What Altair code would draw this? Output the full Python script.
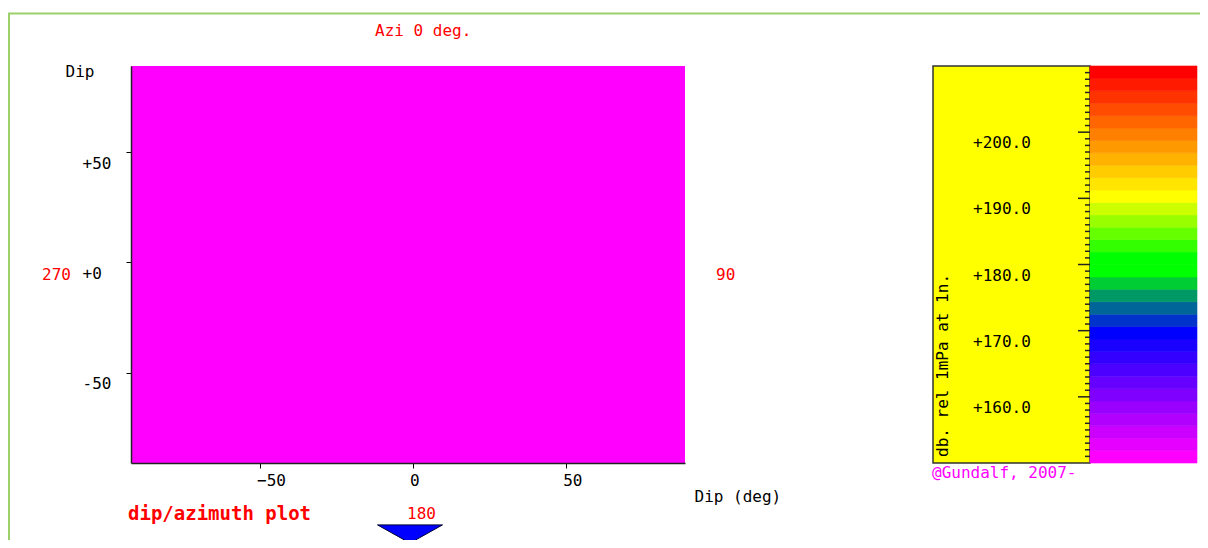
import altair as alt
import pandas as pd

# ---------------- data ----------------
# dip/azimuth grid (whole panel below the colour range -> magenta)
dip_x0 = [-92]
dip_x1 = [89]
dip_y0 = [-91]
dip_y1 = [89]
level_db = [150]

dip_ticks = [-50, 0, 50]

# colour bar bands (dB), lower edges, bottom to top
band_lo = [150.0, 151.875, 153.75, 155.625, 157.5, 159.375, 161.25, 163.125,
           165.0, 166.875, 168.75, 170.625, 172.5, 174.375, 176.25, 178.125,
           180.0, 181.875, 183.75, 185.625, 187.5, 189.375, 191.25, 193.125,
           195.0, 196.875, 198.75, 200.625, 202.5, 204.375, 206.25, 208.125]
band_hi = band_lo[1:] + [210.0]
palette = ["#ff00ff", "#e500ff", "#cc00ff", "#b200ff", "#9900ff", "#8000ff",
           "#6600ff", "#4c00ff", "#3300ff", "#1a00ff", "#0000ff", "#0033cc",
           "#006699", "#009966", "#00cc33", "#00ff00", "#00ff00", "#33ff00",
           "#66ff00", "#99ff00", "#ccff00", "#ffff00", "#ffe500", "#ffcc00",
           "#ffb200", "#ff9900", "#ff8000", "#ff6600", "#ff4c00", "#ff3300",
           "#ff1a00", "#ff0000"]
cb_labels = [160, 170, 180, 190, 200]
cb_major = [160, 170, 180, 190, 200]
cb_minor = [v for v in range(151, 210) if v % 10 != 0]

W, H = 554, 397
MONO = "DejaVu Sans Mono"
RED = "#ff0000"

main_df = pd.DataFrame({"x0": dip_x0, "x1": dip_x1, "y0": dip_y0, "y1": dip_y1, "level": level_db})
band_df = pd.DataFrame({"lo": band_lo, "hi": band_hi})
one = pd.DataFrame({"a": [0]})

color_scale = alt.Scale(type="threshold", domain=band_lo[1:], range=palette)

heat = alt.Chart(main_df).mark_rect().encode(
    x=alt.X("x0:Q", scale=alt.Scale(domain=[-92, 89], nice=False, zero=False),
            axis=alt.Axis(values=dip_ticks, grid=False, tickSize=5, tickColor="#000",
                          domainColor="#222", domainWidth=1.5, labelFont=MONO, labelFontSize=16,
                          labelColor="#000", labelPadding=4, labelAlign="left", labelOffset=-3,
                          title="Dip (deg)", titleFont=MONO, titleFontSize=16,
                          titleFontWeight="normal", titleColor="#000", titleX=563,
                          titleY=33, titleAlign="left", titleBaseline="middle", zindex=1)),
    x2="x1:Q",
    y=alt.Y("y0:Q", scale=alt.Scale(domain=[-91, 89], nice=False, zero=False),
            axis=alt.Axis(values=dip_ticks, grid=False, tickSize=5, tickColor="#000",
                          domainColor="#222", domainWidth=1.5, labelFont=MONO, labelFontSize=16,
                          labelColor="#000", labelPadding=44, labelAlign="left", labelOffset=11,
                          labelExpr="datum.value >= 0 ? '+' + datum.value : '' + datum.value",
                          title="Dip", titleFont=MONO, titleFontSize=16, titleFontWeight="normal",
                          titleColor="#000", titleAngle=0, titleX=-66, titleY=5,
                          titleAlign="left", titleBaseline="middle", zindex=1)),
    y2="y1:Q",
    color=alt.Color("level:Q", scale=color_scale, legend=None),
)

def label(txt, x, y, color=RED, size=16, weight="normal", align="left", angle=0):
    kw = dict(text=txt, font=MONO, fontSize=size, fontWeight=weight, color=color,
              align=align, baseline="middle")
    if angle:
        kw["angle"] = angle
    return alt.Chart(one).mark_text(**kw).encode(x=alt.value(x), y=alt.value(y))

annos = [
    label("Azi 0 deg.", 244, -35),
    label("270", -89, 209),
    label("90", 585, 209),
    label("180", 276, 448),
    label("dip/azimuth plot", -3, 448, size=19, weight="bold"),
    label("db. rel 1mPa at 1n.", 812, 391, color="#000", angle=270),
    label("@Gundalf, 2007-", 801, 407, color="#ff00ff"),
]

border_left = alt.Chart(one).mark_rule(color="#9bd06a", strokeWidth=2).encode(
    x=alt.value(-122), y=alt.value(-53), y2=alt.value(482))
border_top = alt.Chart(one).mark_rule(color="#9bd06a", strokeWidth=2).encode(
    x=alt.value(-123), x2=alt.value(1077), y=alt.value(-52.5))

triangle = alt.Chart(one).mark_point(
    shape="M-1,-0.28L1,-0.28L0,0.28Z", size=4225, filled=True, fill="#0000ff",
    stroke="#000033", strokeWidth=1, opacity=1).encode(x=alt.value(279), y=alt.value(468))

yellow_box = alt.Chart(one).mark_rect(fill="#ffff00", stroke="#333", strokeWidth=1.5).encode(
    x=alt.value(802), x2=alt.value(959), y=alt.value(0), y2=alt.value(H))

main_layer = alt.layer(border_left, border_top, yellow_box, heat, triangle, *annos)

cb_y = alt.Scale(domain=[150, 210], nice=False, zero=False)

bands = alt.Chart(band_df).mark_rect(strokeWidth=0.6).encode(
    x=alt.value(959), x2=alt.value(1066),
    y=alt.Y("lo:Q", scale=cb_y, axis=None), y2="hi:Q",
    color=alt.Color("lo:Q", scale=color_scale, legend=None),
    stroke=alt.Stroke("lo:Q", scale=color_scale, legend=None),
)
minor = alt.Chart(pd.DataFrame({"v": cb_minor})).mark_rule(color="#222", strokeWidth=1.5).encode(
    x=alt.value(954), x2=alt.value(959), y=alt.Y("v:Q", scale=cb_y, axis=None))
major = alt.Chart(pd.DataFrame({"v": cb_major})).mark_rule(color="#222", strokeWidth=1.5).encode(
    x=alt.value(947), x2=alt.value(959), y=alt.Y("v:Q", scale=cb_y, axis=None))
cb_text = alt.Chart(pd.DataFrame({"v": cb_labels})).transform_calculate(
    t="'+' + format(datum.v, '.1f')"
).mark_text(font=MONO, fontSize=16, color="#000", align="left", baseline="middle", dy=11).encode(
    x=alt.value(842), y=alt.Y("v:Q", scale=cb_y, axis=None), text="t:N")

cb_layer = alt.layer(bands, minor, major, cb_text)

chart = alt.layer(main_layer, cb_layer).resolve_scale(
    y="independent", color="independent", stroke="independent"
).properties(
    width=W, height=H,
    autosize=alt.AutoSizeParams(type="none"),
    padding={"left": 123, "top": 58, "right": 515, "bottom": 77},
    background="white",
).configure_view(stroke=None)

chart.save("out.html", embed_options={"renderer": "svg", "actions": False})
